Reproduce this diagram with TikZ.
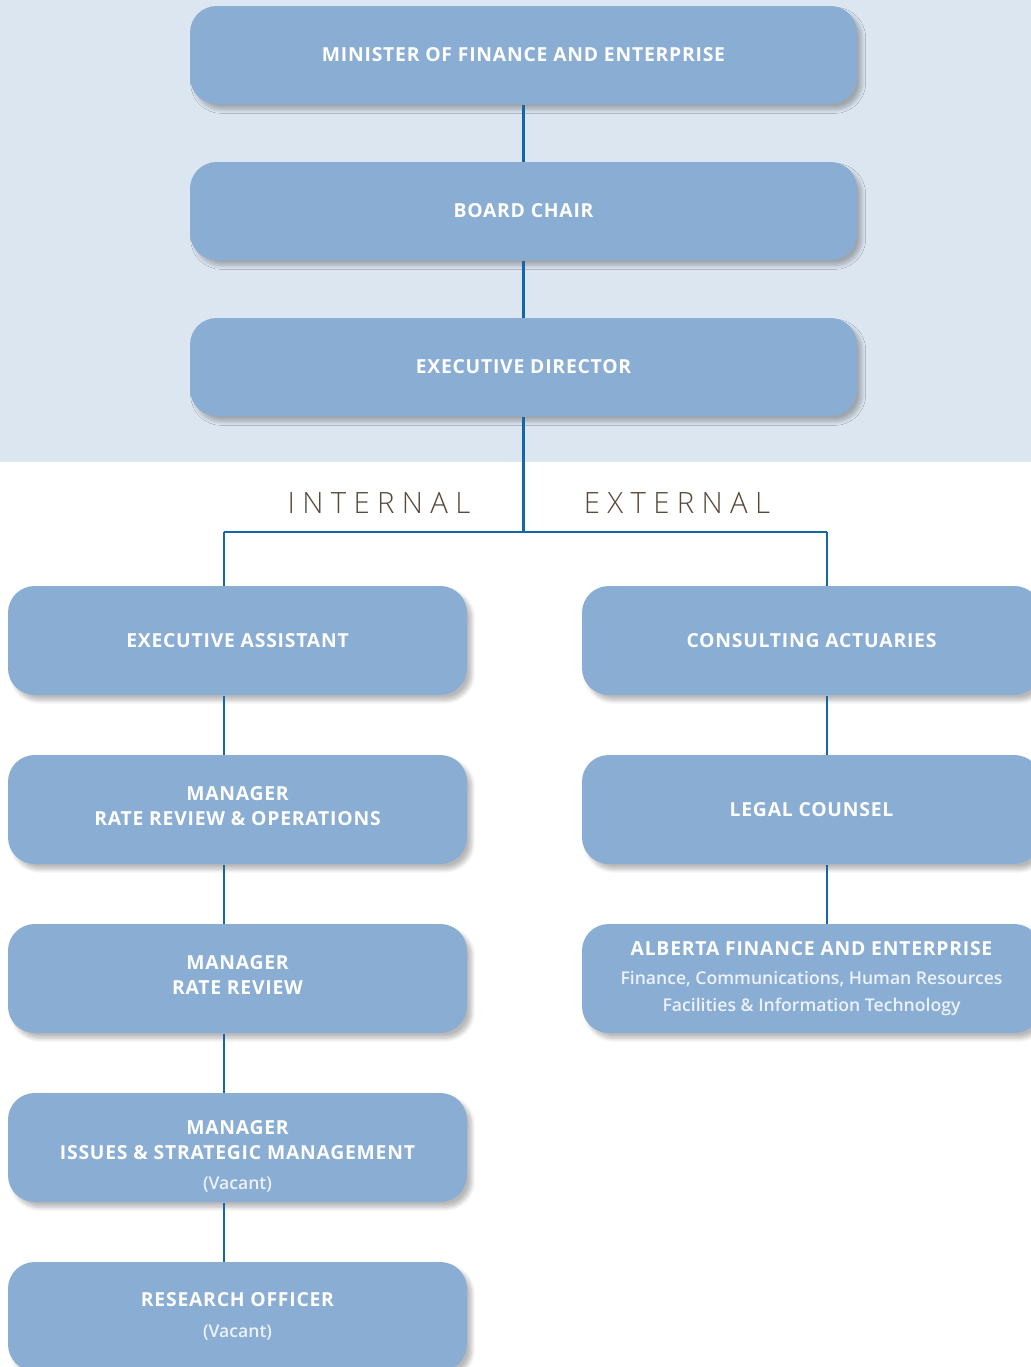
\documentclass[tikz,border=0pt]{standalone}
\usepackage{fontspec}
\setmainfont{Open Sans}
\IfFontExistsTF{Open Sans SemiBold}
  {\newfontfamily\boxfont[LetterSpace=4,BoldFont={Open Sans SemiBold}]{Open Sans}}
  {\newfontfamily\boxfont[LetterSpace=4]{Open Sans}}
\IfFontExistsTF{Open Sans Light}
  {\newfontfamily\sidefont[LetterSpace=25]{Open Sans Light}
   \newfontfamily\subfont{Open Sans Light}}
  {\newfontfamily\sidefont[LetterSpace=25]{Open Sans}
   \newfontfamily\subfont{Open Sans}}
\usetikzlibrary{shadows.blur}
\definecolor{boxblue}{RGB}{138,173,212}
\definecolor{bandblue}{RGB}{220,230,241}
\definecolor{linkblue}{RGB}{21,102,166}
\definecolor{sidebrown}{RGB}{88,72,58}
\definecolor{subwhite}{RGB}{236,242,249}
\newcommand{\subline}[1]{{\subfont\fontsize{13.2}{21}\selectfont\color{subwhite}#1}}
\tikzset{every picture/.style={line width=0.75pt}}

\begin{document}
\begin{tikzpicture}[x=0.75pt,y=0.75pt,yscale=-1,xscale=1,
    orgbox/.style={fill=boxblue, rounded corners=20pt, align=center, text=white, inner sep=0pt,
      font=\boxfont\bfseries\fontsize{14.5}{18.75}\selectfont,
      blur shadow={shadow xshift=3.5pt, shadow yshift=-4pt, shadow blur radius=3pt,
        shadow blur steps=8, shadow opacity=28}},
    topbox/.style={orgbox, minimum width=500.25pt, minimum height=73.5pt},
    sidebox/.style={orgbox, minimum width=344.25pt, minimum height=81.75pt},
    link/.style={draw=linkblue, line width=2pt},
    sidelabel/.style={font=\sidefont\fontsize{22}{26}\selectfont, text=sidebrown, inner sep=0pt}]
    \useasboundingbox (0,0) rectangle (1031,1367);

    %Shape: Rectangle [band behind the board]
    \fill [bandblue] (0,0) rectangle (1031,462);

    %Shape: top chain
    \node [topbox] (minister) at (523.5,55) {MINISTER OF FINANCE AND ENTERPRISE};
    \node [topbox] (chair) at (523.5,211) {BOARD CHAIR};
    \node [topbox] (execdir) at (523.5,367) {EXECUTIVE DIRECTOR};

    %Shape: internal column
    \node [sidebox] (execasst) at (237.5,640.5) {EXECUTIVE ASSISTANT};
    \node [sidebox] (mgrops) at (237.5,809.5) {MANAGER\\RATE REVIEW \& OPERATIONS\rule[-6pt]{0pt}{0pt}};
    \node [sidebox] (mgrrate) at (237.5,978.5) {MANAGER\\RATE REVIEW\rule[-6pt]{0pt}{0pt}};
    \node [sidebox] (mgrissues) at (237.5,1147.5) {\rule{0pt}{24pt}MANAGER\\ISSUES \& STRATEGIC MANAGEMENT\\[4pt]\subline{(Vacant)}};
    \node [sidebox] (research) at (237.5,1316.5) {RESEARCH OFFICER\\[5pt]\subline{(Vacant)}};

    %Shape: external column
    \node [sidebox] (actuaries) at (811.5,640.5) {CONSULTING ACTUARIES};
    \node [sidebox] (legal) at (811.5,809.5) {LEGAL COUNSEL};
    \node [sidebox] (albfin) at (811.5,978.5) {ALBERTA FINANCE AND ENTERPRISE\\[2.5pt]\subline{Finance, Communications, Human Resources}\\[1.5pt]\subline{Facilities \& Information Technology}};

    % Text Node
    \node [sidelabel] (internal) at (379,503) {INTERNAL};
    % Text Node
    \node [sidelabel] (external) at (677,503) {EXTERNAL};

    %Straight Lines
    \coordinate (lbus) at (224,532);
    \coordinate (rbus) at (827,532);
    \draw [link] (minister) -- (chair);
    \draw [link] (chair) -- (execdir);
    \draw [link] (execdir.south) -- (execdir.south |- lbus);
    \draw [link] (lbus) -- (rbus);
    \draw [link] (lbus) -- (lbus |- execasst.north);
    \draw [link] (rbus) -- (rbus |- actuaries.north);
    \foreach \a/\b in {execasst/mgrops, mgrops/mgrrate, mgrrate/mgrissues, mgrissues/research}
      \draw [link] (lbus |- \a.south) -- (lbus |- \b.north);
    \foreach \a/\b in {actuaries/legal, legal/albfin}
      \draw [link] (rbus |- \a.south) -- (rbus |- \b.north);
\end{tikzpicture}
\end{document}
